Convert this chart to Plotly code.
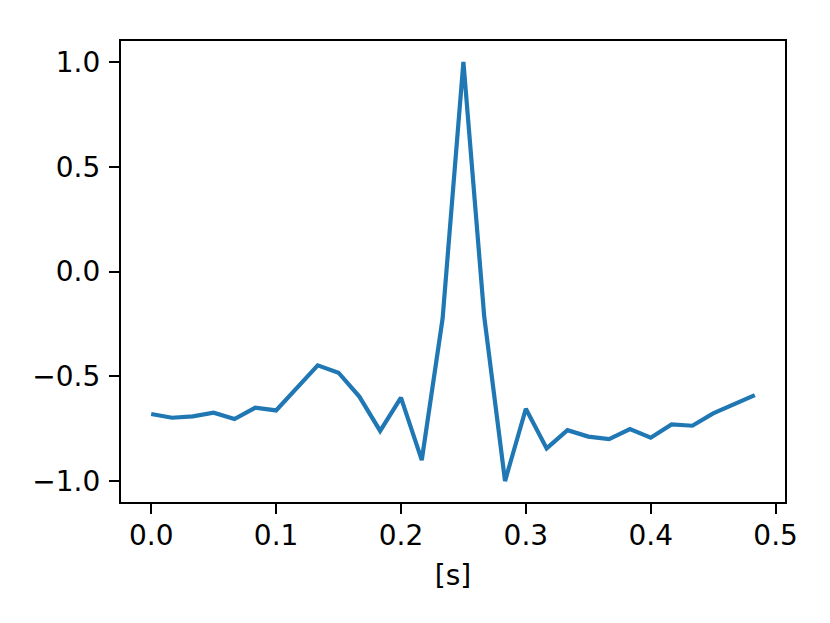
import numpy as np
import plotly.graph_objects as go

# time axis: 30 samples at 60 Hz
t = np.arange(30) / 60.0

signal = [
    -0.680, -0.698, -0.691, -0.674, -0.704, -0.650, -0.663, -0.553, -0.448, -0.483,
    -0.597, -0.761, -0.602, -0.900, -0.225, 1.000, -0.215, -1.000, -0.655, -0.844,
    -0.757, -0.788, -0.800, -0.752, -0.793, -0.730, -0.736, -0.677, -0.632, -0.590,
]

x_ticks = [0.0, 0.1, 0.2, 0.3, 0.4, 0.5]
y_ticks = [-1.0, -0.5, 0.0, 0.5, 1.0]
y_ticktext = ["\u22121.0", "\u22120.5", "0.0", "0.5", "1.0"]

FONT = dict(family="DejaVu Sans", size=28, color="black")

fig = go.Figure(go.Scatter(
    x=t, y=signal, mode="lines",
    line=dict(color="#1f77b4", width=4.2),
    showlegend=False,
))

axis_style = dict(
    showline=True, mirror=True, linecolor="black", linewidth=2.2,
    ticks="outside", ticklen=10, tickwidth=2.2, tickcolor="black",
    showgrid=False, zeroline=False,
    tickfont=FONT,
)

fig.update_xaxes(
    range=[-0.02417, 0.50750],
    tickvals=x_ticks,
    ticktext=[f"{v:.1f}" for v in x_ticks],
    ticklabelstandoff=-3,
    title=dict(text="[s]", font=FONT, standoff=15),
    **axis_style,
)
fig.update_yaxes(
    range=[-1.1, 1.1],
    tickvals=y_ticks,
    ticktext=y_ticktext,
    ticklabelstandoff=3,
    **axis_style,
)

# page body adds 8px offset, so figure is 8px smaller with shifted margins
fig.update_layout(
    width=822, height=615,
    margin=dict(l=113, r=45, t=33, b=121),
    plot_bgcolor="white", paper_bgcolor="white",
    font=FONT,
)

fig.write_html("out.html")
